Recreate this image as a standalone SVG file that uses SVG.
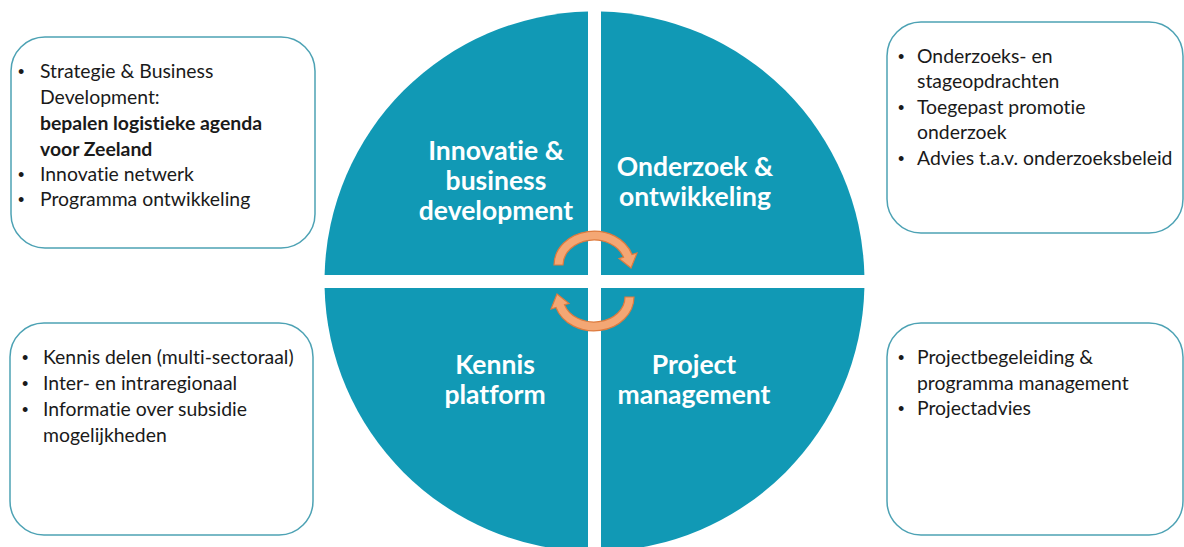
<svg xmlns="http://www.w3.org/2000/svg" width="1184" height="547" viewBox="0 0 1184 547">
<style>
text{font-variant-ligatures:none;font-feature-settings:"liga" 0,"clig" 0}
.q{fill:#1199B5}
.qt{font-family:Lato,"Liberation Sans",sans-serif;font-weight:bold;font-size:26.5px;fill:#ffffff;text-anchor:middle}
.box{fill:#ffffff;stroke:#4DA2B4;stroke-width:1.5}
.bt{font-family:Lato,"Liberation Sans",sans-serif;font-size:19.4px;fill:#1a1a1a}
.bu{font-family:"Liberation Sans",sans-serif;font-size:18px;fill:#1a1a1a}
.b{font-weight:bold}
.arr{fill:#F4A774;stroke:#DE7B3E;stroke-width:1.2}
</style>
<rect width="1184" height="547" fill="#ffffff"/>
<g id="quadrant-innovatie">
<path class="q" d="M588 275 V11.6 A270 270 0 0 0 324.6 275 Z"/>
<text class="qt"><tspan x="496" y="160">Innovatie &amp;</tspan><tspan x="496" y="190">business</tspan><tspan x="496" y="220">development</tspan></text>
</g>
<g id="quadrant-onderzoek">
<path class="q" d="M601 275 V11.6 A270 270 0 0 1 864.4 275 Z"/>
<text class="qt"><tspan x="695" y="176">Onderzoek &amp;</tspan><tspan x="695" y="206">ontwikkeling</tspan></text>
</g>
<g id="quadrant-kennis">
<path class="q" d="M588 288 V551.4 A270 270 0 0 1 324.6 288 Z"/>
<text class="qt"><tspan x="495" y="374">Kennis</tspan><tspan x="495" y="404">platform</tspan></text>
</g>
<g id="quadrant-project">
<path class="q" d="M601 288 V551.4 A270 270 0 0 0 864.4 288 Z"/>
<text class="qt"><tspan x="694" y="374">Project</tspan><tspan x="694" y="404">management</tspan></text>
</g>
<g id="box-innovatie">
<rect class="box" x="11" y="37" width="304" height="211" rx="34"/>
<text class="bu"><tspan x="18" y="78">•</tspan><tspan x="18" y="181">•</tspan><tspan x="18" y="206">•</tspan></text>
<text class="bt"><tspan x="40" y="78">Strategie &amp; Business</tspan><tspan x="40" y="104">Development:</tspan><tspan x="40" y="130" class="b">bepalen logistieke agenda</tspan><tspan x="40" y="156" class="b">voor Zeeland</tspan><tspan x="40" y="181">Innovatie netwerk</tspan><tspan x="40" y="206">Programma ontwikkeling</tspan></text>
</g>
<g id="box-onderzoek">
<rect class="box" x="887" y="22" width="296" height="211" rx="34"/>
<text class="bu"><tspan x="898" y="63">•</tspan><tspan x="898" y="114">•</tspan><tspan x="898" y="165">•</tspan></text>
<text class="bt"><tspan x="917" y="63">Onderzoeks- en</tspan><tspan x="917" y="88">stageopdrachten</tspan><tspan x="917" y="114">Toegepast promotie</tspan><tspan x="917" y="139">onderzoek</tspan><tspan x="917" y="165">Advies t.a.v. onderzoeksbeleid</tspan></text>
</g>
<g id="box-kennis">
<rect class="box" x="10" y="323" width="303" height="212" rx="34"/>
<text class="bu"><tspan x="22" y="364">•</tspan><tspan x="22" y="390">•</tspan><tspan x="22" y="416">•</tspan></text>
<text class="bt"><tspan x="43" y="364">Kennis delen (multi-sectoraal)</tspan><tspan x="43" y="390">Inter- en intraregionaal</tspan><tspan x="43" y="416">Informatie over subsidie</tspan><tspan x="43" y="442">mogelijkheden</tspan></text>
</g>
<g id="box-project">
<rect class="box" x="887" y="323" width="296" height="212" rx="34"/>
<text class="bu"><tspan x="898" y="364">•</tspan><tspan x="898" y="415">•</tspan></text>
<text class="bt"><tspan x="917" y="364">Projectbegeleiding &amp;</tspan><tspan x="917" y="390">programma management</tspan><tspan x="917" y="415">Projectadvies</tspan></text>
</g>
<g id="connectors">
<path class="arr" d="M554 265 A40 34 0 0 1 632 254.5 L637 253 L631 268 L619 258.5 L623.5 257.3 A31 25 0 0 0 563 265 Z"/>
<path class="arr" d="M634 297 A40 34 0 0 1 556 307.5 L551 309 L557 294 L569 303.5 L564.5 304.7 A31 25 0 0 0 625 297 Z"/>
</g>
</svg>
